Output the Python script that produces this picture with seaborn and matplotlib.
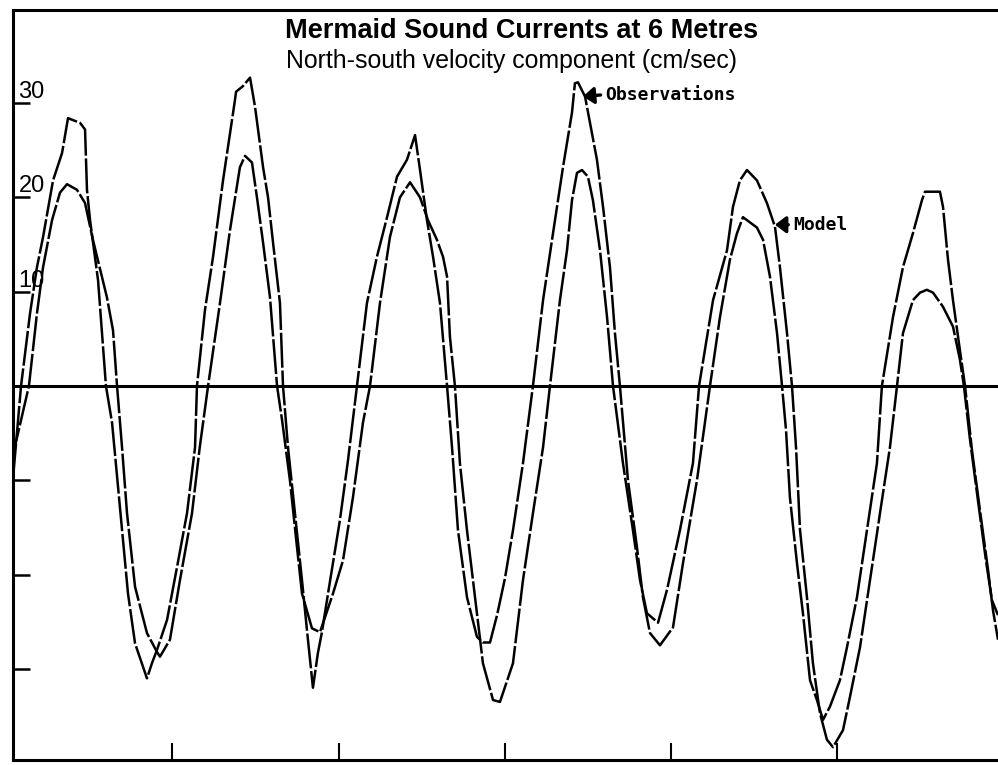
import matplotlib
matplotlib.use("Agg")
import matplotlib.pyplot as plt
import pandas as pd
import seaborn as sns

title = "Mermaid Sound Currents at 6 Metres"
subtitle = "North-south velocity component (cm/sec)"

# Observations (hours, cm/sec)
obs_hours = [
    0.5, 1.08, 1.73, 2.23, 2.67, 3.39, 4.04, 4.47, 5.34, 5.70, 5.84, 6.06, 6.64, 7.21,
    7.65, 8.08, 8.80, 9.31, 10.17, 10.53, 10.89, 11.62, 12.34, 13.06, 13.64, 13.78,
    14.36, 14.94, 15.66, 16.31, 16.52, 16.60, 17.10, 17.61, 17.97, 18.55, 18.91, 19.27, 19.77, 19.99,
    20.35, 20.85, 21.36, 21.72, 22.15, 22.51, 22.80, 23.24, 24.10, 24.68, 25.33,
    26.05, 26.77, 27.50, 28.22, 28.94, 29.52, 29.88, 30.38, 30.82, 31.32, 31.83,
    32.19, 32.62, 33.27, 33.99, 34.42, 34.93, 35.44, 36.01, 36.59, 37.31, 38.03,
    38.76, 39.48, 40.20, 40.85, 41.06, 41.28, 41.79, 42.29, 42.65, 43.09, 43.59, 43.95, 44.31,
    44.89, 45.54, 45.97, 46.48, 47.20, 48.14, 48.86, 49.87, 50.81,
    51.53, 52.25, 52.76, 53.19, 54.20, 54.64, 55.14, 55.65, 56.01,
    56.30, 56.58, 57.09, 57.52, 58.03, 58.53, 58.97, 59.47, 60.19, 60.70, 61.42, 62.14, 62.86, 63.22,
    64.02, 64.74, 65.46, 66.11, 66.33, 67.41, 67.63, 67.99, 68.35, 68.85, 69.22,
    69.72, 70.30, 70.88, 71.24, 71.60,
]
obs_velocity = [
    -9.8, 0, 7.7, 12.6, 15.8, 21.8, 24.7, 28.4, 27.9, 27.2, 20.8, 17.6, 11.2, 0,
    -3.9, -10.7, -22.0, -27.3, -31.0, -29.4, -28.0, -24.8, -19.2, -13.5, -6.5, 0,
    8.1, 13.7, 21.8, 28.2, 30.3, 31.2, 31.8, 32.7, 29.6, 23.2, 20.0, 15.2, 8.8, 0,
    -6.5, -13.5, -20.6, -25.9, -32.0, -28.3, -26.1, -22.0, -14.2, -7.9, 0,
    8.8, 13.7, 17.9, 22.2, 24.0, 26.6, 22.9, 17.6, 13.7, 8.8, 0,
    -6.5, -15.3, -22.4, -26.6, -27.2, -27.2, -24.3, -20.4, -15.3, -8.2, 0,
    9.1, 16.2, 23.2, 29.0, 32.1, 32.2, 30.7, 26.8, 24.0, 19.0, 12.6, 5.6, 0,
    -10.0, -17.1, -22.4, -26.2, -27.5, -25.6, -18.8, -10.0, 0,
    7.3, 13.4, 16.2, 17.9, 16.8, 15.5, 11.6, 5.6, 0,
    -4.7, -11.8, -18.8, -24.1, -31.2, -33.3, -35.4, -34.0, -31.2, -27.7, -22.4, -15.3, -8.2, 0,
    7.3, 12.6, 16.2, 19.7, 20.6, 20.6, 19.0, 13.4, 9.1, 3.8, 0,
    -6.8, -13.2, -19.5, -23.8, -26.9,
]

# Model (hours, cm/sec)
model_hours = [
    0.5, 1.65, 2.23, 2.67, 3.32, 3.89, 4.40, 5.12, 5.70, 6.27, 7.28, 7.72, 8.01,
    8.37, 8.73, 9.31, 10.17, 10.89, 11.11, 11.83, 12.55, 13.42, 13.98, 14.58,
    15.44, 16.16, 16.88, 17.25, 17.75, 18.11, 18.55, 19.05, 19.56,
    19.92, 20.49, 21.00, 21.36, 22.08, 22.66, 23.60, 24.32, 25.04, 25.76, 26.27,
    26.99, 27.71, 28.43, 29.16, 29.88, 30.45, 31.10, 31.54, 31.83, 32.04, 32.40,
    32.76, 33.27, 33.85, 34.42, 35.15, 35.65, 36.59, 37.31, 38.03, 38.76, 39.26,
    39.98, 40.49, 40.85, 41.21, 41.57, 42.00, 42.36, 42.87, 43.38, 43.81,
    44.53, 45.25, 45.76, 46.26, 47.06, 47.71, 48.64, 49.58, 50.02,
    51.03, 52.04, 52.47, 52.97, 53.48, 54.20, 54.92, 55.50, 55.86, 56.37, 56.73,
    57.02, 57.31, 57.81, 58.24, 58.75, 59.25, 59.69, 60.41, 60.91, 61.64, 62.36, 63.08, 63.80, 64.31,
    64.74, 65.46, 65.97, 66.47, 66.91, 67.63, 68.35, 68.85, 69.14,
    69.58, 70.15, 70.73, 71.16, 71.60,
]
model_velocity = [
    -7.3, 0, 7.7, 12.6, 17.6, 20.5, 21.4, 20.8, 19.4, 15.5, 9.4, 5.9, 0,
    -6.5, -13.5, -21.3, -26.2, -28.2, -28.7, -26.9, -20.6, -13.5, -6.5, 0,
    8.8, 16.5, 23.2, 24.4, 23.7, 20.0, 15.2, 9.4, 0,
    -3.6, -10.0, -17.1, -22.0, -25.7, -26.1, -22.0, -18.5, -11.8, -3.9, 0,
    8.8, 15.8, 20.0, 21.6, 20.0, 17.6, 15.5, 13.7, 11.6, 5.2, 0,
    -8.2, -15.3, -22.4, -29.4, -33.3, -33.5, -29.4, -20.6, -13.5, -6.5, 0,
    9.1, 14.4, 19.7, 22.6, 22.9, 22.2, 19.7, 14.4, 7.3, 0,
    -8.2, -15.3, -20.6, -24.1, -25.1, -21.6, -15.3, -8.2, 0,
    9.1, 14.4, 19.0, 21.8, 22.9, 21.8, 19.4, 16.9, 12.6, 5.6, 0,
    -6.5, -15.3, -22.4, -29.4, -34.7, -37.5, -38.3, -36.5, -33.0, -27.7, -20.6, -13.5, -6.5, 0,
    5.6, 9.1, 9.9, 10.2, 9.9, 8.4, 6.3, 2.8, 0,
    -5.7, -12.1, -18.5, -22.7, -24.3,
]

ytick_values = [-30, -20, -10, 10, 20, 30]
ytick_labels = ["", "", "", "10", "20", "30"]
xtick_values = [12, 24, 36, 48, 60]

obs_label = "Observations"
obs_arrow_tip = (41.64, 30.7)
obs_label_pos = (43.25, 30.9)
model_label = "Model"
model_arrow_tip = (55.5, 17.1)
model_label_pos = (56.8, 17.1)

sns.set_style("white")
plt.rcParams["font.family"] = ["Liberation Sans", "DejaVu Sans"]

fig = plt.figure(figsize=(9.98, 7.65), dpi=100)
ax = fig.add_axes([13 / 998, 5 / 765, 985 / 998, 750 / 765])

df_obs = pd.DataFrame({"hours": obs_hours, "velocity": obs_velocity})
df_model = pd.DataFrame({"hours": model_hours, "velocity": model_velocity})

sns.lineplot(data=df_obs, x="hours", y="velocity", ax=ax, sort=False,
             estimator=None, color="black", linewidth=1.8, linestyle=(0, (14, 1.1)))
sns.lineplot(data=df_model, x="hours", y="velocity", ax=ax, sort=False,
             estimator=None, color="black", linewidth=1.8, linestyle=(3, (14, 1.1)))

ax.axhline(0, color="black", linewidth=2.2, zorder=1)

ax.set_xlim(0.5, 71.6)
ax.set_ylim(-39.66, 39.87)
ax.set_xlabel("")
ax.set_ylabel("")

for side in ["left", "top", "bottom"]:
    ax.spines[side].set_visible(True)
    ax.spines[side].set_color("black")
    ax.spines[side].set_linewidth(2.2)
ax.spines["right"].set_visible(False)

ax.set_yticks(ytick_values, labels=ytick_labels, ha="left", va="bottom")
ax.tick_params(axis="y", direction="in", length=12, width=1.8, pad=-4,
               labelsize=17, left=True, colors="black")
ax.set_xticks(xtick_values)
ax.tick_params(axis="x", direction="in", length=12, width=1.5,
               bottom=True, labelbottom=False, colors="black")

fig.text(522 / 998, 1 - 38 / 765, title, ha="center", va="baseline",
         fontsize=19.5, fontweight="bold", color="black")
fig.text(512 / 998, 1 - 68 / 765, subtitle, ha="center", va="baseline",
         fontsize=17.9, color="black")

arrow_kw = dict(arrowstyle="-|>,head_length=0.5,head_width=0.38", color="black",
                lw=2.4, relpos=(0, 0.5), shrinkA=1, shrinkB=0)
ax.annotate(obs_label, xy=obs_arrow_tip, xytext=obs_label_pos, ha="left", va="center",
            fontfamily="DejaVu Sans Mono", fontweight="bold", fontsize=13,
            color="black", arrowprops=arrow_kw)
ax.annotate(model_label, xy=model_arrow_tip, xytext=model_label_pos, ha="left", va="center",
            fontfamily="DejaVu Sans Mono", fontweight="bold", fontsize=13,
            color="black", arrowprops=arrow_kw)

fig.savefig("out.png", dpi=100, facecolor="white")
